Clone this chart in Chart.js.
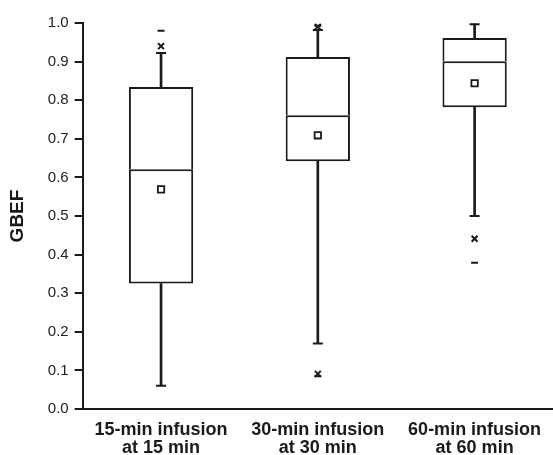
<!DOCTYPE html>
<html>
<head>
<meta charset="utf-8">
<script src="https://cdn.jsdelivr.net/npm/chart.js@4.4.1/dist/chart.umd.min.js"></script>
<style>
  html, body { margin: 0; padding: 0; background: #fff; }
  #wrap { width: 553px; height: 455px; }
</style>
</head>
<body>
<div id="wrap"><canvas id="chart-box"></canvas></div>
<script>
'use strict';

/* ── Data ───────────────────────────────────────────── */
const groups = [['15-min infusion', 'at 15 min'], ['30-min infusion', 'at 30 min'], ['60-min infusion', 'at 60 min']];
const whiskerLow  = [0.06, 0.17, 0.50];
const q1          = [0.325, 0.642, 0.782];
const median      = [0.621, 0.761, 0.901];
const q3          = [0.834, 0.912, 0.961];
const whiskerHigh = [0.922, 0.982, 0.997];
const mean        = [0.569, 0.709, 0.844];
// outliers (x marks) and extremes (dashes), one value per group or null
const outlierHi = [0.94, 0.99, null];
const outlierLo = [null, 0.091, 0.441];
const extremeHi = [0.98, 0.993, null];
const extremeLo = [null, 0.085, 0.379];
const yTicks = [0, 0.1, 0.2, 0.3, 0.4, 0.5, 0.6, 0.7, 0.8, 0.9, 1.0];

const INK = '#1a1a1a';
const FONT = 'Liberation Sans, Arial, sans-serif';

const pts = (values, style, radius, extra = {}) => Object.assign({
    type: 'line', data: values, showLine: false, order: 1,
    pointStyle: style, pointRadius: radius, pointHoverRadius: radius,
    borderColor: INK, backgroundColor: '#fff', pointBorderWidth: 2, borderWidth: 2,
}, extra);

const boxBar = (values, border) => ({
    type: 'bar', data: values, backgroundColor: '#fff', borderColor: INK,
    borderWidth: border, borderSkipped: false, barPercentage: 0.41, categoryPercentage: 1,
    grouped: false, order: 2,
});

const stem = values => ({
    type: 'bar', data: values, backgroundColor: INK, barThickness: 2, grouped: false, order: 3,
});

const data = {
    labels: groups,
    datasets: [
        // whisker stems
        stem(whiskerLow.map((v, i) => [v, q1[i]])),
        stem(q3.map((v, i) => [v, whiskerHigh[i]])),
        // lower half of box (its top edge is the median line) and upper half
        boxBar(q1.map((v, i) => [v, median[i]]), 2),
        boxBar(median.map((v, i) => [v, q3[i]]), { top: 2, left: 2, right: 2, bottom: 0 }),
        pts(whiskerLow, 'line', 5),
        pts(whiskerHigh, 'line', 5),
        pts(mean, 'rect', 4.5, { pointBorderWidth: 1.8 }),
        pts(outlierHi, 'crossRot', 4.2),
        pts(outlierLo, 'crossRot', 4.2),
        pts(extremeHi, 'line', 3.5),
        pts(extremeLo, 'line', 3.5),
    ]
};

const config = {
    type: 'bar',
    data,
    options: {
        responsive: true, maintainAspectRatio: false, animation: false,
        layout: { autoPadding: false, padding: { top: 23, right: 0, left: 2, bottom: -6 } },
        scales: {
            x: {
                offset: true,
                grid: { display: false },
                border: { display: true, color: INK, width: 2 },
                ticks: { color: INK, padding: 4, font: { family: FONT, size: 18, weight: 'bold', lineHeight: 1.0 }, maxRotation: 0 }
            },
            y: {
                min: 0, max: 1,
                afterBuildTicks: axis => { axis.ticks = yTicks.map(v => ({ value: v })); },
                grid: { drawOnChartArea: false, drawTicks: true, tickLength: 8, color: INK, lineWidth: 2 },
                border: { display: true, color: INK, width: 2 },
                ticks: { color: '#222', padding: 6, font: { family: FONT, size: 15 }, callback: v => v.toFixed(1) },
                title: { display: true, text: 'GBEF', color: INK, padding: { bottom: 13 }, font: { family: FONT, size: 19, weight: 'bold' } }
            }
        },
        plugins: { legend: { display: false }, tooltip: { enabled: false } }
    }
};

new Chart(document.getElementById('chart-box'), config);
</script>
</body>
</html>
